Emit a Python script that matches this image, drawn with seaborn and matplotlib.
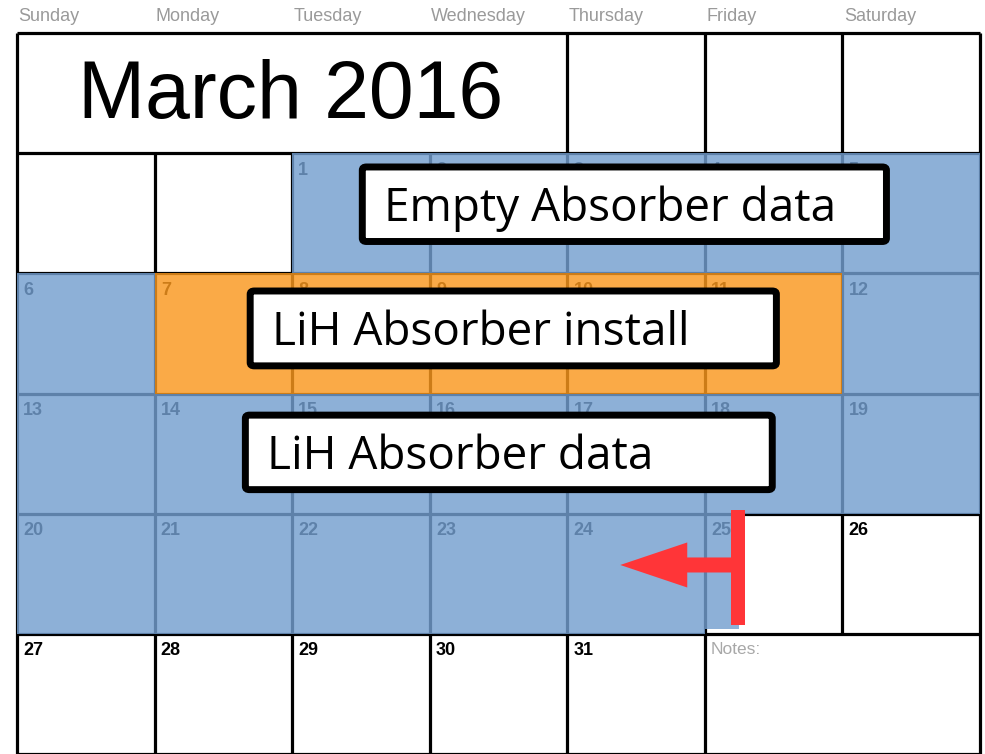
import numpy as np
import pandas as pd
import matplotlib
matplotlib.use("Agg")
import matplotlib.pyplot as plt
from matplotlib.colors import ListedColormap
from matplotlib.patches import FancyBboxPatch, Rectangle, FancyArrow
import seaborn as sns

# Calendar data
weekday_names = ["Sunday", "Monday", "Tuesday", "Wednesday", "Thursday", "Friday", "Saturday"]
month_title = "March 2016"
n_days = 31
first_weekday = 2  # March 1st 2016 is a Tuesday

# 0 = data taking (blue), 1 = absorber install (orange)
data_days = [1, 2, 3, 4, 5, 6, 12, 13, 14, 15, 16, 17, 18, 19, 20, 21, 22, 23, 24]
install_days = [7, 8, 9, 10, 11]
partial_day = 25
partial_fraction = 0.25

labels = ["Empty Absorber data", "LiH Absorber install", "LiH Absorber data"]

BLUE = "#749fcf"
ORANGE = "#fa981e"
ALPHA = 0.82

sns.set_theme(style="white")
plt.rcParams["font.family"] = ["Liberation Sans", "DejaVu Sans"]

fig = plt.figure(figsize=(9.85, 7.54), dpi=100)
ax = fig.add_axes([17 / 985, 0, 963 / 985, 721 / 754])

# cell status matrix: row 0 is the title row, rows 1..5 are weeks
status = np.full((6, 7), np.nan)
for d in data_days:
    pos = first_weekday + d - 1
    status[1 + pos // 7, pos % 7] = 0
for d in install_days:
    pos = first_weekday + d - 1
    status[1 + pos // 7, pos % 7] = 1
status_df = pd.DataFrame(status, columns=weekday_names)

sns.heatmap(status_df, ax=ax, cmap=ListedColormap([BLUE, ORANGE]), vmin=0, vmax=1,
            cbar=False, xticklabels=False, yticklabels=False, alpha=ALPHA, zorder=3,
            linewidths=0)

pos = first_weekday + partial_day - 1
ax.add_patch(Rectangle((pos % 7, 1 + pos // 7), partial_fraction, 0.96,
                       facecolor=BLUE, alpha=ALPHA, lw=0, zorder=3))

# grid lines
lw = 2.3
ax.hlines(range(0, 7), 0, 7, color="black", lw=lw, zorder=2, clip_on=False)
ax.vlines([0, 7], 0, 6, color="black", lw=lw, zorder=2, clip_on=False)
ax.vlines([4, 5, 6], 0, 1, color="black", lw=lw, zorder=2)
ax.vlines([1, 2, 3, 4, 5, 6], 1, 5, color="black", lw=lw, zorder=2)
ax.vlines([1, 2, 3, 4, 5], 5, 6, color="black", lw=lw, zorder=2)

# weekday names
for i, name in enumerate(weekday_names):
    ax.text(i + 0.01, -0.14, name, ha="left", va="center", fontsize=13,
            color="#9a9a9a", clip_on=False)

# title
ax.text(1.985, 0.535, month_title, ha="center", va="center", fontsize=58, color="black")

# day numbers
for d in range(1, n_days + 1):
    pos = first_weekday + d - 1
    ax.text(pos % 7 + 0.045, 1 + pos // 7 + 0.07, str(d), ha="left", va="top",
            fontsize=13, fontweight="bold", color="black", zorder=2.5)
ax.text(5.045, 5.07, "Notes:", ha="left", va="top", fontsize=12.5, color="#a8a8a8")

# label boxes (x0, y0, x1, y1 in cell units)
boxes = [(2.51, 1.115, 6.32, 1.735), (1.695, 2.147, 5.52, 2.77), (1.66, 3.18, 5.49, 3.80)]
for (x0, y0, x1, y1), lab in zip(boxes, labels):
    ax.add_patch(FancyBboxPatch((x0, y0), x1 - x0, y1 - y0,
                                boxstyle="round,pad=0,rounding_size=0.03",
                                facecolor="white", edgecolor="black", lw=5, zorder=5,
                                mutation_aspect=0.9))
    ax.text(x0 + 0.16, (y0 + y1) / 2 + 0.035, lab, ha="left", va="center",
            fontsize=33, family=["Open Sans", "DejaVu Sans"], color="black", zorder=6)

# red arrow marking the end of the LiH data
RED = "#ff3538"
ax.add_patch(Rectangle((5.19, 3.97), 0.10, 0.955, facecolor=RED, lw=0, zorder=7))
ax.add_patch(FancyArrow(5.20, 4.427, -0.815, 0, width=0.125, head_width=0.375,
                        head_length=0.487, length_includes_head=True,
                        facecolor=RED, lw=0, zorder=7))

ax.set_xlim(0, 7)
ax.set_ylim(6, 0)
ax.axis("off")

fig.savefig("out.png", dpi=100)
